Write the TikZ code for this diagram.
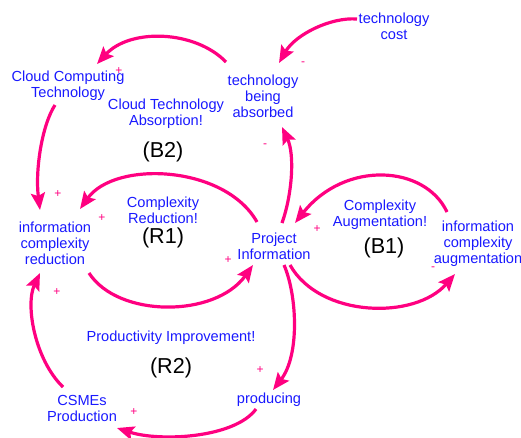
\documentclass[tikz,border=0pt]{standalone}
\usepackage{fontspec}
\setmainfont{Liberation Sans}
\usetikzlibrary{arrows.meta,calc}
\definecolor{lnk}{RGB}{255,0,128}
\definecolor{txt}{RGB}{25,25,255}
\begin{document}
\begin{tikzpicture}[x=1pt,y=-1pt,
  var/.style={text=txt,align=center,inner sep=0pt,font=\fontsize{14.6}{16}\selectfont},
  loopname/.style={text=black,inner sep=0pt,font=\fontsize{21.6}{24}\selectfont},
  pol/.style={text=lnk,inner sep=0pt,font=\fontsize{12}{12}\selectfont},
  link/.style={draw=lnk,line width=3.2pt,-{Stealth[length=17pt,width=14pt,inset=3pt]}}]
\useasboundingbox (0,0) rectangle (521,437);

% variables
\node[var] (tc)   at (394,26)  {technology\\cost};
\node[var] (tba)  at (263,96)  {technology\\being\\absorbed};
\node[var] (cct)  at (68,86)   {Cloud Computing\\Technology};
\node[var] (icr)  at (55,243)  {information\\complexity\\reduction};
\node[var] (pi)   at (274,246) {Project\\Information};
\node[var] (ica)  at (478,244) {information\\complexity\\augmentation};
\node[var] (prod) at (269,400) {producing};
\node[var] (csme) at (82,408)  {CSMEs\\Production};

% loop titles
\node[var] (cta) at (166,114) {Cloud Technology\\Absorption!};
\node[var] (crd) at (163,210) {Complexity\\Reduction!};
\node[var] (cau) at (380,215) {Complexity\\Augmentation!};
\node[var] (piv) at (171,338) {Productivity Improvement!};
\node[loopname] (b2) at (163,152) {(B2)};
\node[loopname] (r1) at (163,238) {(R1)};
\node[loopname] (b1) at (384,248) {(B1)};
\node[loopname] (r2) at (171,368) {(R2)};

% links
\draw[link] ($(tc)+(-37,-7)$) .. controls (330,17) and (295,35) .. ($(tba)+(16,-33)$);
\draw[link] ($(tba)+(-37,-34)$) .. controls (195,30) and (130,28) .. ($(cct)+(29,-22)$);
\draw[link] ($(cct)+(-13,19)$) .. controls (42,125) and (35,170) .. ($(icr)+(-15,-33)$);
\draw[link] ($(pi)+(8,-23)$) .. controls (292,195) and (295,155) .. ($(tba)+(19,31)$);
\draw[link] ($(pi)+(-17,-24)$) .. controls (225,165) and (115,160) .. ($(icr)+(25,-34)$);
\draw[link] ($(icr)+(34,30)$) .. controls (118,318) and (215,318) .. ($(pi)+(-21,19)$);
\draw[link] ($(ica)+(-31,-32)$) .. controls (425,165) and (345,160) .. ($(pi)+(21,-23)$);
\draw[link] ($(pi)+(16,19)$) .. controls (320,318) and (415,320) .. ($(ica)+(-23,30)$);
\draw[link] ($(pi)+(10,19)$) .. controls (297,295) and (300,355) .. ($(prod)+(4,-10)$);
\draw[link] ($(prod)+(-13,9)$) .. controls (235,438) and (160,442) .. ($(csme)+(35,20)$);
\draw[link] ($(csme)+(-19,-21)$) .. controls (35,360) and (25,305) .. ($(icr)+(-15,30)$);

% polarities
\node[pol] (p1)  at (303,64)  {-};
\node[pol] (p2)  at (119,71)  {+};
\node[pol] (p3)  at (265,146) {-};
\node[pol] (p4)  at (58,194)  {+};
\node[pol] (p5)  at (102,218) {+};
\node[pol] (p6)  at (228,260) {+};
\node[pol] (p7)  at (317,229) {+};
\node[pol] (p8)  at (57,292)  {+};
\node[pol] (p9)  at (433,269) {-};
\node[pol] (p10) at (260,370) {+};
\node[pol] (p11) at (134,412) {+};
\end{tikzpicture}
\end{document}
